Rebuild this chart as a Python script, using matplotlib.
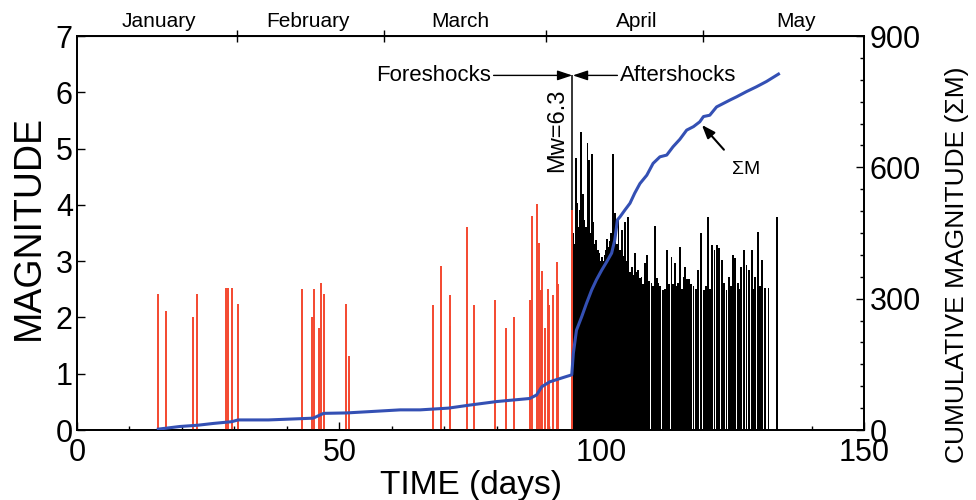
import matplotlib
matplotlib.use("Agg")
import matplotlib.pyplot as plt
from matplotlib.ticker import MultipleLocator, FixedLocator
from matplotlib.transforms import blended_transform_factory

plt.rcParams['font.family'] = ['Liberation Sans', 'DejaVu Sans']

# ---------------- data ----------------
fore_day = [15.5, 16.9, 22.2, 22.9, 28.4, 28.8, 29.6, 30.6, 42.9, 44.7, 45.2, 46.1,
            46.6, 47.1, 51.2, 51.8, 67.9, 69.4, 71.0, 71.1, 74.3, 75.7, 79.7, 81.7,
            83.3, 86.3, 86.7, 87.7, 88.1, 88.4, 88.7, 89.2, 89.7, 90.0, 90.7, 91.4,
            91.7, 94.3]
fore_mag = [2.41, 2.11, 2.01, 2.41, 2.52, 2.52, 2.52, 2.23, 2.50, 2.01, 2.50, 1.81,
            2.62, 2.41, 2.23, 1.32, 2.22, 2.91, 2.40, 1.84, 3.61, 2.22, 2.31, 1.82,
            2.01, 2.31, 3.80, 4.01, 3.32, 2.49, 2.82, 1.81, 2.50, 2.22, 2.40, 2.99,
            2.60, 3.90]

main_day = 94.4
main_mag = 6.3

after_day = [94.55, 94.8, 95.1, 95.35, 95.6, 95.8, 96.0, 96.2, 96.4, 96.6, 96.85, 97.05,
             97.3, 97.6, 97.85, 98.1, 98.4, 98.7, 99.0, 99.25, 99.5, 99.75, 100.0, 100.3,
             100.6, 100.85, 101.1, 101.35, 101.6, 101.85, 102.1, 102.5, 102.85, 103.2,
             103.5, 103.8, 104.1, 104.4, 104.75, 105.1, 105.4, 105.7, 106.0, 106.3,
             106.65, 107.0, 107.3, 107.6, 107.95, 108.3, 108.7, 109.1, 109.5, 109.85,
             110.2, 110.5, 110.8, 111.2, 111.7, 112.1, 112.5, 112.9, 113.3, 113.65,
             114.0, 114.3, 114.6, 114.9, 115.25, 115.6, 115.9, 116.2, 116.7, 117.1,
             117.5, 117.9, 118.4, 118.9, 119.5, 119.9, 120.3, 120.7, 121.1, 121.5,
             121.9, 122.4, 122.9, 123.3, 123.8, 124.3, 124.65, 125.0, 125.4, 126.0,
             126.25, 126.5, 127.1, 127.6, 128.1, 128.6, 128.9, 129.2, 129.8, 130.15,
             130.5, 131.1, 131.8, 133.5]
after_mag = [3.5, 3.3, 4.83, 4.03, 3.6, 3.9, 5.3, 3.8, 4.2, 3.73, 3.4, 3.6,
             5.1, 4.8, 3.5, 4.91, 3.7, 3.3, 3.37, 3.2, 3.14, 3.0, 3.08, 3.0,
             3.11, 3.2, 3.4, 3.25, 3.35, 3.5, 4.9, 3.85, 3.3, 3.73,
             3.2, 3.55, 3.1, 3.7, 3.0, 3.79, 2.8, 2.9, 2.75, 3.14,
             2.8, 2.84, 2.7, 2.72, 2.6, 2.96, 3.11, 2.65, 2.61, 2.55,
             3.62, 2.7, 2.61, 2.55, 2.49, 2.5, 3.2, 2.6, 3.08, 2.6,
             2.96, 2.55, 2.61, 3.26, 2.5, 2.72, 2.9, 2.69, 2.69, 2.6,
             2.55, 2.5, 2.84, 3.5, 2.49, 2.55, 3.79, 2.5, 3.29, 3.2,
             3.29, 3.23, 3.02, 2.61, 2.49, 2.72, 2.55, 3.11, 3.05, 2.61,
             2.5, 2.9, 3.2, 2.93, 2.84, 3.2, 2.5, 2.72, 3.52, 2.55,
             3.02, 2.52, 2.52, 3.79]

cum_day = [15.5, 19.6, 23.1, 26.0, 29.5, 30.7, 36.5, 45.0, 47.0, 51.4, 55.8, 61.6,
           65.4, 70.8, 74.9, 80.0, 86.3, 87.6, 88.6, 90.1, 92.7, 94.3, 94.6, 95.2,
           96.2, 97.1, 98.1, 99.0, 100.0, 100.95, 101.9, 102.5, 103.0, 103.5, 104.4,
           105.4, 106.3, 107.3, 108.6, 109.8, 111.1, 112.4, 113.6, 114.9, 116.2,
           117.5, 118.7, 119.4, 120.6, 121.9, 123.2, 124.5, 125.7, 127.6, 129.5,
           131.4, 133.7]
cum_val = [2, 8, 11, 15, 19, 23, 23, 27, 38, 39, 42, 46,
           46, 50, 57, 65, 72, 80, 99, 110, 120, 126, 175, 228,
           259, 289, 320, 343, 365, 384, 404, 434, 480, 487, 502,
           518, 541, 563, 582, 609, 624, 628, 647, 664, 685,
           693, 704, 716, 719, 738, 746, 754, 761, 773, 784,
           796, 813]

month_names = ["January", "February", "March", "April", "May"]
month_label_day = [15.6, 44.1, 73.0, 106.7, 137.0]
month_start_day = [30.5, 58.5, 89.3, 119.3]

x_ticks = [0, 50, 100, 150]
left_ticks = [0, 1, 2, 3, 4, 5, 6, 7]
right_ticks = [0, 300, 600, 900]

# ---------------- figure ----------------
fig = plt.figure(figsize=(9.76, 5.0), dpi=100)
ax = fig.add_axes([77 / 976, 70 / 500, 787 / 976, 394 / 500])
ax.set_xlim(0, 150)
ax.set_ylim(0, 7)

# mainshock line
ax.vlines([main_day], 0, [main_mag], color='black', lw=1.1, zorder=3)
# aftershocks
ax.bar(after_day, after_mag, width=0.36, color='black', edgecolor='none', zorder=2)
# foreshocks
ax.vlines(fore_day, 0, fore_mag, color='#f4472f', lw=1.4, zorder=4)

# cumulative on right axis
ax2 = ax.twinx()
ax2.set_ylim(0, 900)
ax2.plot(cum_day, cum_val, color='#3450b4', lw=2.2, zorder=5)

# ticks
ax.xaxis.set_major_locator(FixedLocator(x_ticks))
ax.xaxis.set_minor_locator(MultipleLocator(10))
ax.yaxis.set_major_locator(FixedLocator(left_ticks))
ax2.yaxis.set_major_locator(FixedLocator(right_ticks))
ax2.yaxis.set_minor_locator(MultipleLocator(50))
ax.tick_params(axis='x', which='major', direction='in', length=6, width=1.0,
               labelsize=22, pad=6, top=False)
ax.tick_params(axis='x', which='minor', direction='in', length=3, width=1.0, top=False)
ax.tick_params(axis='y', which='major', direction='in', length=6, width=1.0,
               labelsize=22, pad=3)
ax2.tick_params(axis='y', which='major', direction='in', length=6, width=1.0,
                labelsize=22, pad=4)
ax2.tick_params(axis='y', which='minor', direction='in', length=3, width=1.0)

for a in (ax, ax2):
    for s in a.spines.values():
        s.set_linewidth(1.3)

# top month axis
top = ax.secondary_xaxis('top')
top.set_xticks(month_start_day)
top.set_xticklabels([])
top.tick_params(direction='inout', length=9, width=1.0)
trans = blended_transform_factory(ax.transData, ax.transAxes)
for name, d in zip(month_names, month_label_day):
    ax.text(d, 1.036, name, transform=trans, ha='center', va='center', fontsize=15)

# labels
ax.text(-0.061, 0.515, "MAGNITUDE", transform=ax.transAxes, rotation=90,
        ha='center', va='center', fontsize=27)
ax.text(0.5, -0.14, "TIME (days)", transform=ax.transAxes, ha='center',
        va='center', fontsize=24)
ax.text(1.118, 0.42, "CUMULATIVE MAGNITUDE (\u03a3M)", transform=ax.transAxes,
        rotation=90, ha='center', va='center', fontsize=19)

# annotations
ax.annotate('', xy=(main_day, main_mag), xytext=(79.4, main_mag),
            arrowprops=dict(arrowstyle='-|>,head_length=0.9,head_width=0.3',
                            color='black', lw=1.0, shrinkA=0, shrinkB=0))
ax.annotate('', xy=(main_day + 0.1, main_mag), xytext=(103.0, main_mag),
            arrowprops=dict(arrowstyle='-|>,head_length=0.9,head_width=0.3',
                            color='black', lw=1.0, shrinkA=0, shrinkB=0))
ax.text(78.9, main_mag, "Foreshocks", ha='right', va='center', fontsize=16)
ax.text(103.5, main_mag, "Aftershocks", ha='left', va='center', fontsize=16)
ax.text(91.6, 5.33, "Mw=6.3", rotation=90, ha='center', va='center', fontsize=17)

ax.annotate('', xy=(119.1, 5.42), xytext=(123.3, 4.98),
            arrowprops=dict(arrowstyle='-|>,head_length=0.8,head_width=0.3',
                            color='black', lw=1.5, shrinkA=0, shrinkB=0))
ax.text(127.5, 4.62, "\u03a3M", ha='center', va='center', fontsize=14)

fig.savefig("out.png", dpi=100)
